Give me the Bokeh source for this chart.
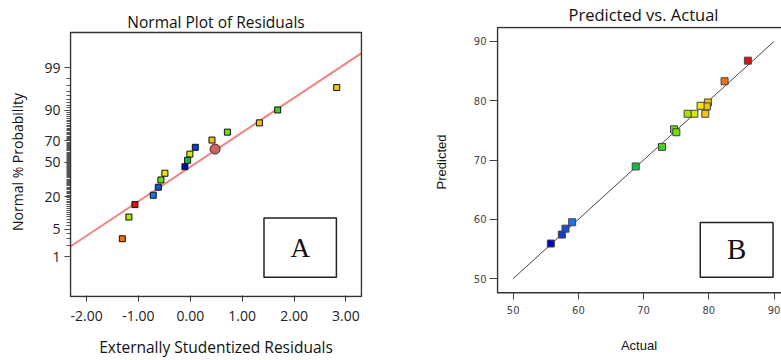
from statistics import NormalDist
import numpy as np
from bokeh.plotting import figure
from bokeh.layouts import row
from bokeh.models import (FixedTicker, Range1d, BoxAnnotation, Label, LinearColorMapper,
                          ColumnDataSource, NumeralTickFormatter, Title)
from bokeh.embed import file_html
from bokeh.resources import INLINE

# ---------------- data ----------------
actual = [85.99, 82.42, 79.86, 79.71, 78.74, 79.46, 77.78, 76.75,
          74.66, 75.02, 72.82, 68.79, 59.04, 58.02, 57.46, 55.77]
predicted = [86.76, 83.29, 79.71, 79.04, 79.15, 77.80, 77.80, 77.80,
             75.18, 74.68, 72.21, 68.91, 59.50, 58.42, 57.42, 55.91]
residual = [-1.068, -1.311, 0.417, 1.331, -0.49, 2.822, -0.008, -1.184,
            -0.567, 0.714, 1.684, -0.052, -0.714, -0.617, 0.096, -0.104]
probability = [14.9, 3.0, 70.8, 83.4, 39.4, 96.7, 58.0, 8.9,
               33.2, 77.1, 90.1, 52.0, 20.9, 27.0, 64.4, 45.7]
highlight_residual = [0.478]
highlight_probability = [62.8]
fit_residual = [-2.31, 3.30]
fit_probability = [1.92, 99.64]
prob_ticks = [1, 5, 20, 50, 70, 90, 99]
resid_ticks = [-2, -1, 0, 1, 2, 3]
pva_ticks = [50, 60, 70, 80, 90]
diagonal = [50, 90]

# ---------------- helpers ----------------
nd = NormalDist()


def zscore(p):
    return nd.inv_cdf(p / 100.0)


stops = [(55.5, "#0000b4"), (59.2, "#1e78f0"), (68.8, "#10c040"), (72.8, "#44d01c"),
         (75.0, "#6ee000"), (77.0, "#b4e400"), (78.3, "#ece810"), (78.9, "#f0e010"),
         (79.4, "#f0c414"), (80.0, "#eeba10"), (82.4, "#f07010"), (86.0, "#e41010"),
         (87.0, "#e00000")]
sv = [s[0] for s in stops]
rgb = [tuple(int(c[i:i + 2], 16) for i in (1, 3, 5)) for _, c in stops]
grid = np.linspace(sv[0], sv[-1], 256)
palette = []
for g in grid:
    r = int(round(np.interp(g, sv, [c[0] for c in rgb])))
    gg = int(round(np.interp(g, sv, [c[1] for c in rgb])))
    b = int(round(np.interp(g, sv, [c[2] for c in rgb])))
    palette.append("#%02x%02x%02x" % (r, gg, b))
mapper = LinearColorMapper(palette=palette, low=sv[0], high=sv[-1])

src = ColumnDataSource(dict(actual=actual, predicted=predicted, residual=residual,
                            z=[zscore(p) for p in probability]))

FONT = "Open Sans"
FRAME = "#333"

# ---------------- left: normal plot ----------------
p1 = figure(width=390, height=360, x_range=Range1d(-2.329, 3.319), y_range=Range1d(-3.326, 3.341),
            output_backend="svg", toolbar_location=None,
            min_border_left=69, min_border_right=28, min_border_top=26, min_border_bottom=62)
p1.grid.visible = False
p1.outline_line_color = None
t1 = Title(text="Normal Plot of Residuals", align="center", text_font=FONT,
           text_font_size="15.5px", text_font_style="normal", text_color="#111", standoff=-13)
p1.add_layout(t1, "above")

for ax in (p1.xaxis[0], p1.yaxis[0]):
    ax.axis_line_color = None
    ax.major_tick_line_color = "#333"
    ax.minor_tick_line_color = "#555"
    ax.major_label_text_font = FONT
    ax.major_label_text_font_size = "14px"
    ax.major_label_text_color = "#222"
    ax.axis_label_text_font = FONT
    ax.axis_label_text_font_style = "normal"
    ax.axis_label_text_color = "#111"

p1.xaxis.ticker = FixedTicker(ticks=resid_ticks)
p1.xaxis.formatter = NumeralTickFormatter(format="0.00")
p1.xaxis.minor_tick_line_color = None
p1.xaxis.major_tick_out = 4
p1.xaxis.major_tick_in = 2
p1.xaxis.major_label_standoff = 9
p1.xaxis.axis_label = "Externally Studentized Residuals"
p1.xaxis.axis_label_text_font_size = "15.5px"
p1.xaxis.axis_label_standoff = 12

p1.yaxis.ticker = FixedTicker(ticks=[zscore(p) for p in prob_ticks],
                              minor_ticks=[zscore(p) for p in range(1, 100)])
p1.yaxis.major_label_overrides = {zscore(p): str(p) for p in prob_ticks}
p1.yaxis.major_tick_out = 5
p1.yaxis.major_tick_in = 1
p1.yaxis.minor_tick_out = 3
p1.yaxis.minor_tick_in = 1
p1.yaxis.major_label_standoff = 4
p1.yaxis.axis_label = "Normal % Probability"
p1.yaxis.axis_label_text_font_size = "14px"
p1.yaxis.axis_label_standoff = 14

p1.line(fit_residual, [zscore(p) for p in fit_probability], line_color="#f08484", line_width=2)
p1.scatter("residual", "z", source=src, marker="square", size=6,
           fill_color={"field": "actual", "transform": mapper}, line_color="#111", line_width=1)
p1.scatter(highlight_residual, [zscore(p) for p in highlight_probability], marker="circle", size=10,
           fill_color="#c46464", line_color="#5a2020", line_width=1)

# plot frame of the normal plot
p1.add_layout(BoxAnnotation(left=-2.31, right=3.30, top=3.194, bottom=-3.301,
                            fill_color=None, line_color=FRAME, line_alpha=1, line_width=1.5))
p1.add_layout(BoxAnnotation(left=1.42, right=2.816, top=-1.373, bottom=-2.828,
                            fill_color="white", fill_alpha=1, line_color="#222", line_alpha=1,
                            line_width=1.5))
p1.add_layout(Label(x=2.118, y=-2.10, text="A", text_font="Liberation Serif",
                    text_font_size="27px", text_align="center", text_baseline="middle",
                    text_color="#111"))

# ---------------- right: predicted vs actual ----------------
p2 = figure(width=391, height=360, x_range=Range1d(47.437, 91.15), y_range=Range1d(46.807, 92.521),
            output_backend="svg", toolbar_location=None,
            min_border_left=106, min_border_right=0, min_border_top=26, min_border_bottom=62)
p2.grid.visible = False
p2.outline_line_color = None
t2 = Title(text="Predicted vs. Actual", align="right", offset=63, text_font=FONT,
           text_font_size="16.5px", text_font_style="normal", text_color="#111", standoff=1)
p2.add_layout(t2, "above")

for ax in (p2.xaxis[0], p2.yaxis[0]):
    ax.ticker = FixedTicker(ticks=pva_ticks)
    ax.axis_line_color = None
    ax.major_tick_line_color = "#444"
    ax.minor_tick_line_color = None
    ax.major_label_text_font = "DejaVu Sans"
    ax.major_label_text_font_size = "10px"
    ax.major_label_text_color = "#444"
    ax.axis_label_text_font = "Liberation Sans"
    ax.axis_label_text_font_size = "13px"
    ax.axis_label_text_font_style = "normal"
    ax.axis_label_text_color = "#111"

p2.xaxis.major_tick_out = 2
p2.xaxis.major_tick_in = 5
p2.xaxis.major_label_standoff = 6
p2.xaxis.axis_label = "Actual"
p2.xaxis.axis_label_standoff = 21
p2.yaxis.major_tick_out = 7
p2.yaxis.major_tick_in = 1
p2.yaxis.major_label_standoff = 3
p2.yaxis.axis_label = "Predicted"
p2.yaxis.axis_label_standoff = 22

p2.line(diagonal, diagonal, line_color="#444", line_width=1)
p2.scatter("actual", "predicted", source=src, marker="square", size=7,
           fill_color={"field": "actual", "transform": mapper}, line_color="#444", line_width=1)

# plot frame of the predicted-vs-actual plot (right side runs past the page edge)
p2.add_layout(BoxAnnotation(left=47.59, right=92.0, top=92.35, bottom=47.62,
                            fill_color=None, line_color=FRAME, line_alpha=1, line_width=1.5))
p2.add_layout(BoxAnnotation(left=78.69, right=89.85, top=59.46, bottom=50.22,
                            fill_color="white", fill_alpha=1, line_color="#222", line_alpha=1,
                            line_width=1.5))
p2.add_layout(Label(x=84.28, y=55.04, text="B", text_font="Liberation Serif",
                    text_font_size="29px", text_align="center", text_baseline="middle",
                    text_color="#111"))

layout = row(p1, p2)
open("out.html", "w").write(file_html(layout, INLINE))
